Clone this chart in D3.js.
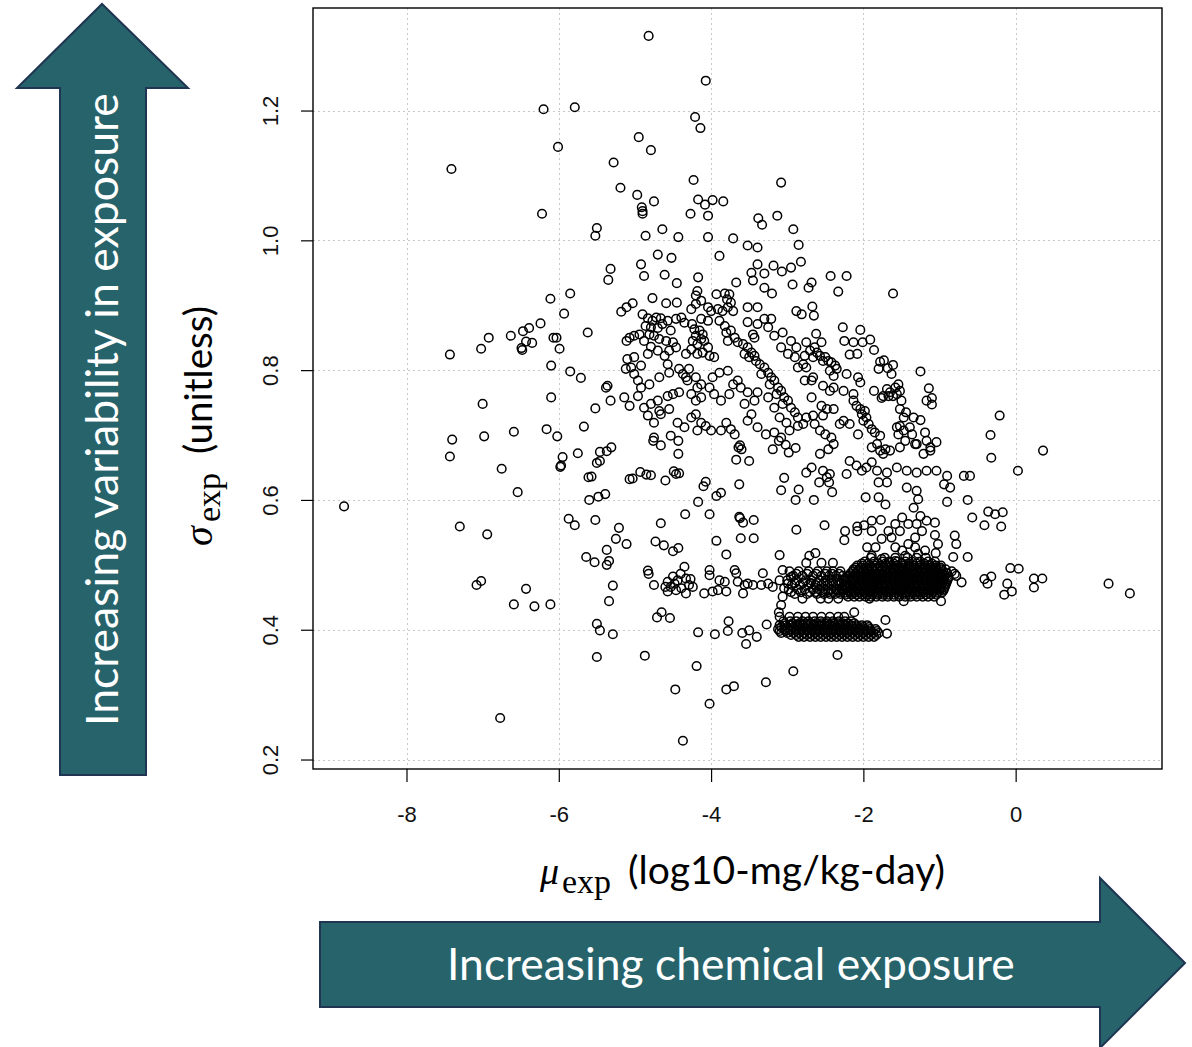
<!DOCTYPE html>
<html>
<head>
<meta charset="utf-8">
<script src="https://cdn.jsdelivr.net/npm/d3@7"></script>
<style>
  body { margin: 0; background: #fff; }
  svg { display: block; }
</style>
</head>
<body>
<div id="chart"></div>
<script>
// axis ticks
const xTicks = [-8, -6, -4, -2, 0];
const yTicks = [0.2, 0.4, 0.6, 0.8, 1.0, 1.2];

// [mu_exp, sigma_exp], region by region
const upperScatter = [
  [-4.82,1.315],[-4.07,1.246],[-6.20,1.202],[-5.79,1.205],[-4.21,1.190],[-4.14,1.173],[-6.01,1.144],[-7.41,1.110],
  [-4.95,1.159],[-4.79,1.139],[-5.28,1.120],[-4.23,1.093],[-5.19,1.081],[-4.97,1.070],[-4.91,1.051],[-4.90,1.045],
  [-4.90,1.041],[-4.75,1.060],[-4.17,1.063],[-4.08,1.055],[-3.98,1.062],[-3.84,1.060],[-4.27,1.041],[-4.04,1.038],
  [-6.22,1.041],[-5.50,1.019],[-5.52,1.007],[-4.86,1.007],[-4.64,1.017],[-4.43,1.005],[-4.04,1.005],[-3.71,1.003],
  [-3.08,1.089],[-3.38,1.034],[-3.33,1.024],[-3.13,1.038],[-2.92,1.017],[-2.43,0.945],[-2.22,0.945]
];

const leftScatter = [
  [-6.11,0.910],[-5.85,0.918],[-5.93,0.887],[-6.24,0.872],[-6.47,0.860],[-6.39,0.865],[-6.49,0.834],[-6.48,0.831],
  [-6.43,0.844],[-6.35,0.842],[-6.63,0.853],[-6.92,0.850],[-7.02,0.833],[-7.43,0.824],[-6.07,0.850],[-6.03,0.850],
  [-5.99,0.833],[-5.62,0.858],[-6.10,0.807],[-5.85,0.798],[-5.71,0.788]
];

const lowerLeftScatter = [
  [-7.00,0.748],[-6.10,0.758],[-7.40,0.693],[-7.43,0.667],[-6.98,0.698],[-6.59,0.705],[-6.16,0.709],[-6.02,0.698],
  [-5.95,0.666],[-5.98,0.651],[-5.97,0.653],[-5.75,0.672],[-5.67,0.713],[-5.52,0.741],
  [-6.75,0.648],[-6.54,0.612],[-8.82,0.590],[-7.30,0.559],[-6.94,0.547],[-7.08,0.469],[-7.02,0.475],[-6.43,0.463],
  [-6.59,0.439],[-6.32,0.436],[-6.11,0.439],[-6.77,0.264],
  [-5.87,0.571],[-5.79,0.561],[-5.52,0.569],[-5.64,0.512],[-5.53,0.504],[-5.37,0.523],[-5.34,0.506],[-5.37,0.500],
  [-5.29,0.468],[-5.34,0.444],[-5.50,0.409],[-5.46,0.399],[-5.29,0.393],[-5.50,0.358],
  [-5.61,0.635],[-5.57,0.636],[-5.50,0.657],[-5.46,0.674],[-5.37,0.675],[-5.31,0.681],[-5.46,0.660],[-5.60,0.600],
  [-5.48,0.605],[-5.39,0.609],[-5.21,0.557],[-5.25,0.540],[-5.11,0.532],
  [-5.07,0.632],[-5.03,0.633],[-4.93,0.643],[-4.85,0.639],[-4.79,0.638],[-4.66,0.564],[-4.73,0.536],[-4.62,0.530],
  [-4.50,0.521],[-4.43,0.526],[-4.60,0.630],[-4.49,0.644],[-4.46,0.640],[-4.42,0.641],[-4.76,0.691],[-4.66,0.684],
  [-4.43,0.691],[-4.43,0.671],[-4.34,0.578],[-4.17,0.597],[-4.02,0.578],[-4.10,0.621],[-4.07,0.628],[-3.93,0.606],
  [-3.87,0.611],[-3.93,0.537],[-3.80,0.516],
  [-4.71,0.419],[-4.65,0.427],[-4.54,0.418],[-4.17,0.396],[-3.95,0.393],[-3.78,0.398],[-3.77,0.413],[-4.87,0.360],
  [-4.19,0.344],[-4.47,0.308],[-3.80,0.308],[-3.70,0.313],[-4.02,0.286],[-4.37,0.229]
];

const bandLeftScatter = [
  [-4.83,0.491],[-4.82,0.486],[-4.75,0.469],[-4.57,0.474],[-4.53,0.466],[-4.48,0.471],[-4.44,0.476],[-4.46,0.461],
  [-4.39,0.464],[-4.35,0.497],[-4.33,0.479],[-4.29,0.469],[-4.24,0.466],[-4.57,0.459],[-4.33,0.456],[-4.09,0.456],
  [-4.02,0.492],[-4.02,0.484],[-3.98,0.459],[-3.91,0.461],[-3.80,0.459],[-3.89,0.476],[-3.82,0.474],[-3.69,0.492],
  [-3.67,0.487],[-3.65,0.474],[-3.56,0.469],[-3.58,0.456],[-3.52,0.471],[-3.45,0.469],[-3.34,0.469],[-3.32,0.487],
  [-3.25,0.471],[-3.19,0.466],[-3.10,0.476],[-3.06,0.492],[-2.99,0.471],[-2.95,0.481],[-3.06,0.451],[-3.08,0.438],
  [-3.04,0.464],[-4.50,0.482],[-4.40,0.486],[-4.27,0.478],[-4.60,0.466]
];

const centreScatter = [
  [-4.70,0.978],[-4.52,0.973],[-3.89,0.976],[-4.92,0.963],[-4.88,0.945],[-5.32,0.956],[-5.35,0.939],[-4.61,0.947],
  [-4.45,0.934],[-4.17,0.943],[-3.52,0.992],[-3.39,0.989],[-3.39,0.963],[-3.30,0.949],[-3.47,0.950],[-3.45,0.938],
  [-3.18,0.961],[-3.07,0.952],[-2.95,0.958],[-2.82,0.967],[-2.85,0.993],[-3.67,0.935],[-3.30,0.927],[-3.20,0.918],
  [-2.93,0.932],[-4.77,0.911],[-4.59,0.903],[-4.45,0.904],[-5.18,0.890],[-5.11,0.897],[-5.03,0.903],[-4.18,0.922],
  [-4.20,0.915],[-3.93,0.917],[-3.52,0.897],[-3.39,0.897],[-2.88,0.891],
  [-4.90,0.886],[-4.83,0.880],[-4.77,0.876],[-4.72,0.881],[-4.66,0.880],[-4.86,0.868],[-4.79,0.866],[-4.70,0.865],
  [-4.64,0.871],[-4.81,0.855],[-4.75,0.853],[-4.68,0.848],[-4.88,0.845],[-4.94,0.855],[-5.01,0.853],[-5.07,0.850],
  [-5.11,0.845],[-4.57,0.876],[-4.53,0.861],[-4.59,0.845],[-4.50,0.843],[-4.46,0.835],[-4.55,0.830],[-4.61,0.822],
  [-4.70,0.830],[-4.79,0.836],[-4.83,0.825],[-4.46,0.879],[-4.39,0.881],[-4.26,0.894],[-4.20,0.902],[-4.13,0.907],
  [-4.35,0.873],[-4.25,0.871],
  [-4.22,0.863],[-4.15,0.861],[-4.11,0.855],[-4.20,0.853],[-4.13,0.848],[-4.09,0.845],[-4.18,0.840],[-4.24,0.845],
  [-4.04,0.835],[-4.11,0.827],[-4.02,0.822],[-3.96,0.820],[-4.18,0.825],[-4.26,0.832],[-4.33,0.825],[-4.13,0.879],
  [-4.04,0.876],
  [-3.82,0.918],[-3.76,0.917],[-3.79,0.909],[-3.74,0.904],[-3.78,0.897],[-3.85,0.891],[-3.71,0.891],[-3.91,0.894],
  [-4.00,0.891],[-4.04,0.897],
  [-3.89,0.876],[-3.82,0.868],[-3.80,0.858],[-3.74,0.861],[-3.69,0.850],[-3.78,0.845],[-3.65,0.843],[-3.58,0.840],
  [-3.52,0.835],[-3.47,0.827],[-3.43,0.822],[-3.50,0.820],[-3.56,0.825],[-3.41,0.814],[-3.36,0.809],[-3.30,0.804],
  [-3.25,0.796],[-3.34,0.794],[-3.21,0.789],[-3.17,0.784],[-3.23,0.778],[-3.12,0.773],[-3.08,0.768],[-3.14,0.763],
  [-3.04,0.758],[-2.99,0.753],[-3.06,0.748],[-2.95,0.742],[-2.90,0.735],[-2.86,0.727],[-2.86,0.714],[-2.97,0.707],
  [-3.01,0.719],[-3.10,0.727],[-3.17,0.742],[-3.25,0.758],
  [-3.17,0.853],[-3.06,0.858],[-2.95,0.845],[-2.88,0.835],[-3.08,0.835],[-2.99,0.825],[-2.90,0.820],
  [-3.52,0.874],[-3.39,0.871],[-3.30,0.879],[-3.21,0.879],[-3.25,0.866],[-3.43,0.850],[-3.45,0.855],[-2.86,0.804],
  [-5.10,0.817],[-5.01,0.820],[-5.05,0.804],[-5.12,0.802],[-4.92,0.807],[-5.01,0.794],[-4.96,0.784],[-4.81,0.778],
  [-4.92,0.773],[-4.68,0.789],[-4.57,0.809],[-4.55,0.796],[-4.42,0.802],[-4.37,0.794],[-4.29,0.802],[-4.33,0.789],
  [-4.31,0.784],[-5.38,0.773],[-5.36,0.776],
  [-5.32,0.753],[-5.14,0.758],[-5.07,0.745],[-4.96,0.760],[-4.88,0.742],[-4.79,0.748],[-4.70,0.753],[-4.57,0.760],
  [-4.50,0.763],[-4.42,0.766],[-4.68,0.737],[-4.55,0.740],[-4.83,0.730],[-4.75,0.719],[-4.66,0.732],
  [-4.20,0.789],[-4.13,0.778],[-4.18,0.773],[-4.26,0.763],[-4.20,0.753],[-4.13,0.758],[-4.02,0.773],[-3.96,0.763],
  [-3.98,0.789],[-3.89,0.796],[-3.78,0.799],[-3.71,0.778],[-3.76,0.763],[-3.87,0.753],[-3.65,0.784],[-3.61,0.773],
  [-3.52,0.766],[-3.56,0.748],[-3.43,0.753],[-3.39,0.766],
  [-4.44,0.719],[-4.26,0.727],[-4.20,0.732],[-4.13,0.719],[-4.07,0.714],[-4.00,0.707],[-4.18,0.707],[-3.80,0.719],
  [-3.74,0.709],[-3.69,0.701],[-3.87,0.707],[-3.52,0.722],[-3.47,0.732],[-3.39,0.712],[-3.28,0.701],[-3.17,0.704],
  [-3.08,0.696],[-4.35,0.712],[-4.75,0.696],[-4.53,0.699]
];

const centreLowScatter = [
  [-3.64,0.681],[-3.62,0.684],[-3.60,0.678],[-3.67,0.662],[-3.63,0.624],[-3.63,0.574],[-3.62,0.572],[-3.58,0.565],
  [-3.44,0.569],[-3.61,0.541],[-3.44,0.541],[-3.10,0.515]
];

const rightScatter = [
  [-2.33,0.921],[-2.72,0.927],[-2.68,0.935],[-2.67,0.898],[-2.65,0.884],[-2.81,0.886],[-2.27,0.866],[-2.04,0.862],
  [-2.62,0.856],[-2.25,0.845],[-2.13,0.843],[-2.01,0.843],[-1.91,0.847],[-1.86,0.831],[-2.75,0.843],[-2.64,0.835],
  [-2.55,0.843],[-2.70,0.830],[-2.61,0.827],[-2.57,0.822],[-2.50,0.820],[-2.46,0.814],[-2.42,0.812],[-2.37,0.807],
  [-2.35,0.802],[-2.53,0.814],[-2.66,0.820],[-2.77,0.822],[-2.79,0.809],[-2.75,0.804],[-2.44,0.799],[-2.39,0.791],
  [-2.18,0.824],[-2.08,0.825],[-1.78,0.813],[-1.73,0.815],[-1.61,0.808],[-1.80,0.802],[-1.68,0.803],[-1.63,0.794],
  [-1.25,0.798],[-2.22,0.794],[-2.07,0.789],[-2.04,0.781],[-2.66,0.789],[-2.68,0.784],[-2.53,0.776],[-2.39,0.773],
  [-2.44,0.768],[-2.26,0.768],[-2.13,0.763],[-1.61,0.918],
  [-1.69,0.771],[-1.65,0.766],[-1.58,0.773],[-1.56,0.763],[-1.61,0.760],[-1.67,0.760],[-1.54,0.778],[-1.52,0.768],
  [-1.74,0.760],[-1.86,0.768],[-1.76,0.757],[-1.14,0.772],[-1.17,0.753],[-1.10,0.757],[-1.10,0.747],[-1.50,0.753],
  [-1.52,0.740],[-1.44,0.735],[-1.47,0.727],[-1.34,0.727],[-1.25,0.723],[-1.56,0.712],[-1.52,0.714],[-1.47,0.707],
  [-1.54,0.701],[-1.39,0.712],[-1.19,0.704],[-1.17,0.691],[-1.12,0.681],[-1.12,0.676],[-1.30,0.686],[-1.45,0.691],
  [-1.52,0.681],[-1.04,0.689],[-0.33,0.700],[-0.32,0.665],[-0.21,0.730],
  [-2.77,0.784],[-2.68,0.758],[-2.55,0.745],[-2.48,0.740],[-2.66,0.730],[-2.53,0.730],[-2.39,0.740],[-2.75,0.727],
  [-2.79,0.717],[-2.64,0.717],[-2.57,0.707],[-2.50,0.701],[-2.42,0.696],[-2.39,0.686],[-2.46,0.678],[-2.57,0.671],
  [-2.68,0.650],[-2.53,0.645],[-2.44,0.640],
  [-2.13,0.753],[-2.09,0.745],[-2.04,0.740],[-2.02,0.732],[-1.98,0.737],[-1.96,0.727],[-2.00,0.722],[-1.93,0.717],
  [-1.89,0.709],[-1.85,0.704],[-1.78,0.699],[-1.82,0.686],[-1.89,0.681],[-1.78,0.676],[-1.74,0.671],[-1.65,0.676],
  [-1.71,0.678],[-2.26,0.722],[-2.31,0.717],[-2.18,0.717],[-2.07,0.701],
  [-2.18,0.660],[-2.09,0.653],[-2.02,0.645],[-1.96,0.650],[-1.89,0.658],[-1.82,0.645],[-1.69,0.642],[-1.56,0.650],
  [-1.43,0.645],[-1.30,0.642],[-1.17,0.645],[-1.04,0.645],[-0.90,0.637],[-0.68,0.637],[-0.60,0.637],[-2.75,0.642],
  [-2.48,0.635],[-2.22,0.640],[-1.36,0.701],[-1.32,0.686],[-1.21,0.671]
];

const lowerRightScatter = [
  [0.36,0.676],[0.03,0.645],[-0.94,0.624],[-0.86,0.619],[-0.63,0.600],[-0.90,0.597],[-0.57,0.573],[-0.41,0.561],
  [-0.36,0.582],[-0.27,0.578],[-0.17,0.581],[-0.19,0.559],[-0.80,0.545],[-0.78,0.532],[-0.82,0.512],[-0.63,0.512],
  [-1.05,0.518],[-1.06,0.546],[-0.07,0.495],[0.04,0.494],[-0.41,0.478],[-0.32,0.482],[-0.37,0.471],[-0.11,0.471],
  [-0.15,0.454],[-0.05,0.459],[0.24,0.479],[0.35,0.479],[0.24,0.465],[1.22,0.471],[1.50,0.456],[-0.78,0.483],
  [-0.71,0.473],[-0.98,0.444],[-1.47,0.444],[-1.92,0.448],[-0.84,0.490],[-0.80,0.486],
  [-2.12,0.427],[-1.71,0.415],[-1.69,0.394],[-2.34,0.361],[-2.92,0.336],[-3.28,0.319],[-3.27,0.408],[-3.59,0.395],
  [-3.50,0.399],[-3.40,0.389],[-3.54,0.378],[-3.11,0.427],
  [-3.50,0.660],[-3.19,0.678],[-3.11,0.691],[-3.02,0.685],[-2.98,0.673],[-2.89,0.680],[-3.04,0.634],[-3.08,0.615],
  [-2.85,0.616],[-2.89,0.600],[-2.65,0.600],[-2.88,0.554],
  [-2.58,0.627],[-2.41,0.612],[-2.45,0.627],[-2.51,0.561],[-2.25,0.538],[-2.24,0.552],[-2.08,0.559],[-1.99,0.561],
  [-1.89,0.552],[-1.89,0.568],[-1.77,0.569],[-1.97,0.604],[-1.80,0.627],[-1.69,0.627],[-1.80,0.604],[-1.71,0.593],
  [-1.43,0.619],[-1.30,0.614],[-1.28,0.601],[-1.34,0.588],[-1.25,0.575],[-1.17,0.568],[-1.30,0.563],[-1.23,0.552],
  [-1.32,0.542],[-1.41,0.532],[-1.49,0.522],[-1.58,0.527],[-1.63,0.542],[-1.52,0.552],[-1.49,0.573],[-1.58,0.563],
  [-1.67,0.552],[-1.41,0.563],[-1.32,0.527],[-1.06,0.565],[-1.76,0.540],[-1.84,0.527],[-1.95,0.527],[-1.89,0.514],
  [-1.76,0.509],[-1.67,0.504],[-1.58,0.506],[-1.45,0.514],[-1.28,0.517],[-1.19,0.522],[-1.02,0.532],[-2.08,0.552],
  [-2.71,0.514],[-2.63,0.518]
];

// dense horizontal bands: [sigma_exp, [mu_exp, ...]]
const bandLeftRows = [
  [0.503, [-2.75,-2.55,-2.40]],
  [0.490, [-2.97,-2.85,-2.72,-2.60,-2.48,-2.40,-2.30]],
  [0.486, [-2.88,-2.74,-2.62,-2.50,-2.41,-2.32]],
  [0.483, [-2.92,-2.80,-2.66,-2.55,-2.45,-2.36,-2.27]],
  [0.476, [-3.00,-2.88,-2.76,-2.68,-2.58,-2.50,-2.42,-2.34,-2.26]],
  [0.472, [-2.90,-2.79,-2.69,-2.60,-2.52,-2.44,-2.36,-2.29]],
  [0.469, [-2.94,-2.83,-2.72,-2.63,-2.55,-2.47,-2.39,-2.31,-2.24]],
  [0.462, [-2.98,-2.86,-2.77,-2.66,-2.58,-2.50,-2.42,-2.35,-2.28]],
  [0.458, [-2.95,-2.82,-2.70,-2.62,-2.54,-2.46,-2.39,-2.32]],
  [0.455, [-2.90,-2.74,-2.61,-2.52,-2.44,-2.37,-2.30]],
  [0.448, [-2.80,-2.56,-2.46,-2.33]]
];

const bandCoreRows = [
  [0.451, [-2.20,-2.12,-2.05,-1.97,-1.90,-1.83,-1.75,-1.68,-1.60,-1.53,-1.45,-1.38,-1.30,-1.22,-1.15,-1.07]],
  [0.454, [-2.23,-2.16,-2.09,-2.02,-1.95,-1.88,-1.81,-1.74,-1.67,-1.60,-1.53,-1.46,-1.39,-1.32,-1.25,-1.18,-1.11,-1.04]],
  [0.457, [-2.24,-2.17,-2.11,-2.05,-1.99,-1.93,-1.87,-1.81,-1.75,-1.69,-1.63,-1.57,-1.51,-1.45,-1.39,-1.33,-1.27,-1.21,-1.15,-1.09,-1.03,-0.97]],
  [0.460, [-2.26,-2.19,-2.12,-2.05,-1.98,-1.91,-1.84,-1.77,-1.70,-1.63,-1.56,-1.49,-1.42,-1.35,-1.28,-1.21,-1.14,-1.07,-1.00,-0.95]],
  [0.463, [-2.27,-2.21,-2.14,-2.08,-2.02,-1.96,-1.90,-1.84,-1.78,-1.72,-1.66,-1.60,-1.54,-1.48,-1.42,-1.36,-1.30,-1.24,-1.18,-1.12,-1.06,-1.00,-0.94]],
  [0.466, [-2.24,-2.17,-2.10,-2.03,-1.96,-1.89,-1.82,-1.75,-1.68,-1.61,-1.54,-1.47,-1.40,-1.33,-1.26,-1.19,-1.12,-1.05,-0.98,-0.93]],
  [0.469, [-2.25,-2.19,-2.12,-2.06,-2.00,-1.94,-1.88,-1.82,-1.76,-1.70,-1.64,-1.58,-1.52,-1.46,-1.40,-1.34,-1.28,-1.22,-1.16,-1.10,-1.04,-0.98,-0.92]],
  [0.472, [-2.22,-2.15,-2.08,-2.01,-1.94,-1.87,-1.80,-1.73,-1.66,-1.59,-1.52,-1.45,-1.38,-1.31,-1.24,-1.17,-1.10,-1.03,-0.96,-0.91]],
  [0.475, [-2.23,-2.16,-2.10,-2.04,-1.98,-1.92,-1.86,-1.80,-1.74,-1.68,-1.62,-1.56,-1.50,-1.44,-1.38,-1.32,-1.26,-1.20,-1.14,-1.08,-1.02,-0.96,-0.90]],
  [0.478, [-2.21,-2.13,-2.06,-1.99,-1.92,-1.85,-1.78,-1.71,-1.64,-1.57,-1.50,-1.43,-1.36,-1.29,-1.22,-1.15,-1.08,-1.01,-0.94,-0.89]],
  [0.481, [-2.20,-2.14,-2.08,-2.02,-1.96,-1.90,-1.84,-1.78,-1.72,-1.66,-1.60,-1.54,-1.48,-1.42,-1.36,-1.30,-1.24,-1.18,-1.12,-1.06,-1.00,-0.94,-0.88]],
  [0.484, [-2.18,-2.11,-2.04,-1.97,-1.90,-1.83,-1.76,-1.69,-1.62,-1.55,-1.48,-1.41,-1.34,-1.27,-1.20,-1.13,-1.06,-0.99,-0.93]],
  [0.487, [-2.17,-2.10,-2.04,-1.98,-1.92,-1.86,-1.80,-1.74,-1.68,-1.62,-1.56,-1.50,-1.44,-1.38,-1.32,-1.26,-1.20,-1.14,-1.08,-1.02,-0.96,-0.90]],
  [0.490, [-2.14,-2.07,-2.00,-1.93,-1.86,-1.79,-1.72,-1.65,-1.58,-1.51,-1.44,-1.37,-1.30,-1.23,-1.16,-1.09,-1.02,-0.95]],
  [0.493, [-2.13,-2.06,-2.00,-1.94,-1.88,-1.82,-1.76,-1.70,-1.64,-1.58,-1.52,-1.46,-1.40,-1.34,-1.28,-1.22,-1.16,-1.10,-1.04,-0.98,-0.92]],
  [0.496, [-2.10,-2.03,-1.96,-1.89,-1.82,-1.75,-1.68,-1.61,-1.54,-1.47,-1.40,-1.33,-1.26,-1.19,-1.12,-1.05,-0.99]],
  [0.499, [-2.08,-2.00,-1.92,-1.85,-1.78,-1.70,-1.63,-1.56,-1.48,-1.41,-1.34,-1.26,-1.19,-1.12,-1.05,-0.98]],
  [0.502, [-2.02,-1.94,-1.81,-1.71,-1.60,-1.50,-1.40,-1.30,-1.20,-1.10]],
  [0.505, [-1.98,-1.86,-1.75,-1.66,-1.55,-1.45,-1.36,-1.25,-1.15,-1.06]],
  [0.511, [-1.90,-1.72,-1.58,-1.42,-1.30,-1.18]]
];

const floorRows = [
  [0.389, [-2.85,-2.78,-2.70,-2.63,-2.56,-2.49,-2.42,-2.35,-2.28,-2.21,-2.14,-2.07,-2.00,-1.93,-1.86]],
  [0.392, [-2.95,-2.88,-2.81,-2.74,-2.67,-2.60,-2.53,-2.46,-2.39,-2.32,-2.25,-2.18,-2.11,-2.04,-1.97,-1.90,-1.83]],
  [0.395, [-3.08,-3.00,-2.92,-2.85,-2.78,-2.71,-2.64,-2.57,-2.50,-2.43,-2.36,-2.29,-2.22,-2.15,-2.08,-2.01,-1.94,-1.87,-1.80]],
  [0.398, [-3.10,-3.02,-2.95,-2.88,-2.81,-2.74,-2.67,-2.60,-2.53,-2.46,-2.39,-2.32,-2.25,-2.18,-2.11,-2.04,-1.97,-1.90,-1.82]],
  [0.401, [-3.12,-3.04,-2.96,-2.89,-2.82,-2.75,-2.68,-2.61,-2.54,-2.47,-2.40,-2.33,-2.26,-2.19,-2.12,-2.05,-1.98,-1.91,-1.84]],
  [0.404, [-3.08,-3.00,-2.92,-2.84,-2.77,-2.70,-2.63,-2.56,-2.49,-2.42,-2.35,-2.28,-2.21,-2.14,-2.07,-2.00,-1.93]],
  [0.407, [-3.10,-3.02,-2.94,-2.86,-2.79,-2.72,-2.65,-2.58,-2.51,-2.44,-2.37,-2.30,-2.23,-2.16,-2.09,-2.02,-1.95]],
  [0.410, [-3.03,-2.93,-2.84,-2.76,-2.69,-2.62,-2.55,-2.47,-2.40,-2.33,-2.27,-2.20,-2.12]],
  [0.413, [-3.05,-2.96,-2.88,-2.80,-2.72,-2.64,-2.56,-2.48,-2.40,-2.32,-2.24,-2.16]],
  [0.420, [-3.10,-2.97,-2.86,-2.76,-2.66,-2.55,-2.44,-2.33,-2.25]]
];

// ---- layout ----
const width = 1192, height = 1047;
const box = { left: 313, right: 1162, top: 8, bottom: 769 };
const arrowFill = "#27636a", arrowStroke = "#1f3552";

const svg = d3.select("#chart").append("svg")
    .attr("width", width)
    .attr("height", height);

const x = d3.scaleLinear().domain([-9.228, 1.922]).range([box.left, box.right]);
const y = d3.scaleLinear().domain([0.1854, 1.358]).range([box.bottom, box.top]);

// grid (R grid(): dotted light gray)
const grid = svg.append("g").attr("stroke", "#c8c8c8").attr("stroke-width", 1).attr("stroke-dasharray", "2,3");
grid.selectAll(".gx").data(xTicks).join("line")
    .attr("x1", d => Math.round(x(d)) + 0.5).attr("x2", d => Math.round(x(d)) + 0.5)
    .attr("y1", box.top).attr("y2", box.bottom);
grid.selectAll(".gy").data(yTicks).join("line")
    .attr("x1", box.left).attr("x2", box.right)
    .attr("y1", d => Math.round(y(d)) + 0.5).attr("y2", d => Math.round(y(d)) + 0.5);

// points
const rowsToPoints = rows => rows.flatMap(([s, mus]) => mus.map(m => [m, s]));
const allPoints = [
  ...upperScatter, ...leftScatter, ...lowerLeftScatter, ...bandLeftScatter,
  ...centreScatter, ...centreLowScatter, ...rightScatter, ...lowerRightScatter,
  ...rowsToPoints(bandLeftRows), ...rowsToPoints(bandCoreRows), ...rowsToPoints(floorRows)
];

svg.append("g").selectAll("circle").data(allPoints).join("circle")
    .attr("cx", d => x(d[0]))
    .attr("cy", d => y(d[1]))
    .attr("r", 4.3)
    .attr("fill", "none")
    .attr("stroke", "#000")
    .attr("stroke-width", 1.5);

// box
svg.append("rect")
    .attr("x", box.left).attr("y", box.top)
    .attr("width", box.right - box.left).attr("height", box.bottom - box.top)
    .attr("fill", "none").attr("stroke", "#000").attr("stroke-width", 1.4);

// axes
const tickFont = "'Liberation Sans', Arial, sans-serif";
const xAxis = svg.append("g")
    .attr("transform", `translate(0,${box.bottom})`)
    .call(d3.axisBottom(x).tickValues(xTicks).tickSize(13).tickFormat(d => String(d)));
xAxis.select(".domain").remove();
xAxis.selectAll("line").attr("stroke", "#000").attr("stroke-width", 1.2);
xAxis.selectAll("text")
    .attr("y", 53).attr("dy", 0)
    .attr("font-family", tickFont).attr("font-size", 22).attr("fill", "#111");

const yAxis = svg.append("g")
    .attr("transform", `translate(${box.left},0)`)
    .call(d3.axisLeft(y).tickValues(yTicks).tickSize(12).tickFormat(d3.format(".1f")));
yAxis.select(".domain").remove();
yAxis.selectAll("line").attr("stroke", "#000").attr("stroke-width", 1.2);
yAxis.selectAll("text")
    .attr("transform", "rotate(-90)")
    .attr("x", 0).attr("y", -35).attr("dy", 0)
    .attr("text-anchor", "middle")
    .attr("font-family", tickFont).attr("font-size", 22).attr("fill", "#111");

// helper: scale a text's font size so it spans the wanted length
function fitText(sel, target) {
  const len = sel.node().getComputedTextLength();
  const fs = parseFloat(sel.attr("font-size"));
  sel.attr("font-size", fs * target / len);
  return sel;
}

const labelFont = "Lato, 'Open Sans', sans-serif";
const mathFont = "'Liberation Serif', 'DejaVu Serif', serif";

// x title: mu_exp (log10-mg/kg-day)
const xTitle = svg.append("g");
xTitle.append("text").attr("x", 540).attr("y", 884)
    .attr("font-family", mathFont).attr("font-style", "italic").attr("font-size", 38).text("μ");
xTitle.append("text").attr("x", 562).attr("y", 893)
    .attr("font-family", mathFont).attr("font-size", 34).text("exp");
fitText(xTitle.append("text").attr("x", 628).attr("y", 884)
    .attr("font-family", labelFont).attr("font-size", 34).text("(log10-mg/kg-day)"), 317);

// y title: sigma_exp (unitless), rotated
const yTitle = svg.append("g").attr("transform", "translate(212,546) rotate(-90)");
yTitle.append("text").attr("x", 0).attr("y", 0)
    .attr("font-family", mathFont).attr("font-style", "italic").attr("font-size", 40).text("σ");
yTitle.append("text").attr("x", 24).attr("y", 8)
    .attr("font-family", mathFont).attr("font-size", 34).text("exp");
fitText(yTitle.append("text").attr("x", 92).attr("y", 0)
    .attr("font-family", labelFont).attr("font-size", 34).text("(unitless)"), 148);

// arrows
const rightArrow = d3.path();
[[320, 922], [1100, 922], [1100, 878], [1185, 963], [1100, 1048], [1100, 1007], [320, 1007]]
  .forEach(([px, py], i) => i ? rightArrow.lineTo(px, py) : rightArrow.moveTo(px, py));
rightArrow.closePath();
svg.append("path").attr("d", rightArrow.toString())
    .attr("fill", arrowFill).attr("stroke", arrowStroke).attr("stroke-width", 2);

const upArrow = d3.path();
[[60, 775], [60, 88], [17, 88], [102, 4], [188, 88], [146, 88], [146, 775]]
  .forEach(([px, py], i) => i ? upArrow.lineTo(px, py) : upArrow.moveTo(px, py));
upArrow.closePath();
svg.append("path").attr("d", upArrow.toString())
    .attr("fill", arrowFill).attr("stroke", arrowStroke).attr("stroke-width", 2);

fitText(svg.append("text").attr("x", 447).attr("y", 980)
    .attr("font-family", labelFont).attr("font-size", 38).attr("fill", "#fff")
    .text("Increasing chemical exposure"), 568);

fitText(svg.append("text").attr("transform", "translate(118,726) rotate(-90)")
    .attr("font-family", labelFont).attr("font-size", 38).attr("fill", "#fff")
    .text("Increasing variability in exposure"), 633);
</script>
</body>
</html>
